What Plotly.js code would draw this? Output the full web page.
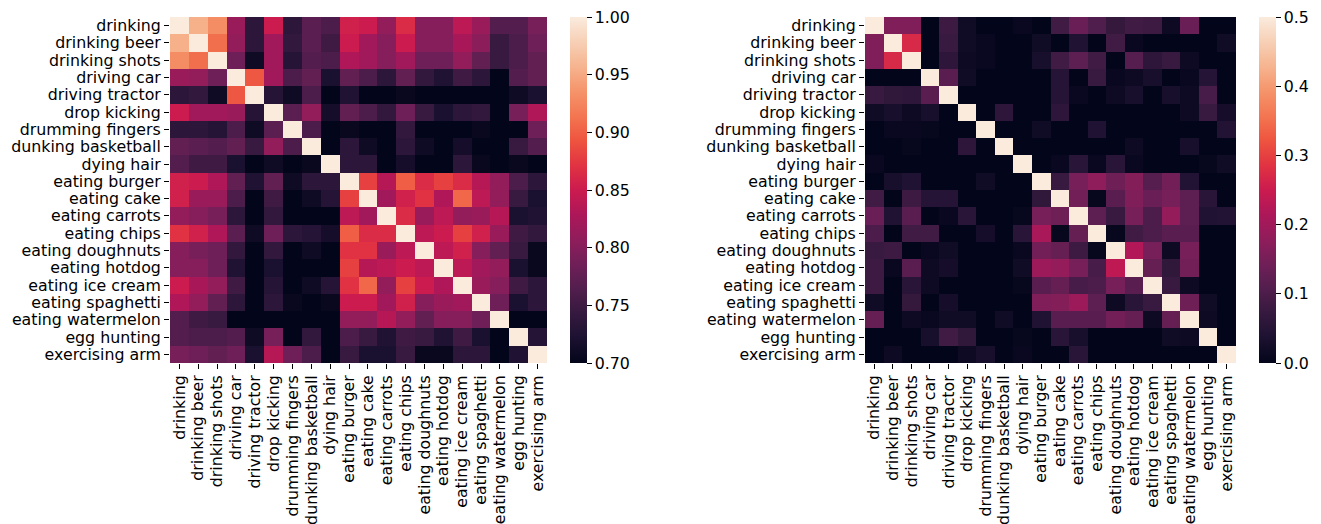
<!DOCTYPE html>
<html><head><meta charset="utf-8">
<script src="https://cdn.plot.ly/plotly-3.0.1.min.js"></script>
<style>html,body{margin:0;padding:0;background:#fff}</style>
</head><body><div id="chart" style="width:1321px;height:524px"></div>
<script>
const categories = ["drinking","drinking beer","drinking shots","driving car","driving tractor","drop kicking","drumming fingers","dunking basketball","dying hair","eating burger","eating cake","eating carrots","eating chips","eating doughnuts","eating hotdog","eating ice cream","eating spaghetti","eating watermelon","egg hunting","exercising arm"];

const leftMatrix = [
[1.00,0.955,0.93,0.815,0.735,0.85,0.735,0.77,0.76,0.855,0.85,0.81,0.865,0.80,0.80,0.84,0.815,0.765,0.765,0.79],
[0.955,1.00,0.91,0.81,0.735,0.82,0.74,0.77,0.75,0.85,0.82,0.80,0.85,0.80,0.80,0.825,0.805,0.745,0.76,0.785],
[0.93,0.91,1.00,0.785,0.71,0.82,0.73,0.765,0.76,0.83,0.82,0.80,0.82,0.785,0.785,0.81,0.775,0.745,0.76,0.775],
[0.815,0.81,0.785,1.00,0.895,0.82,0.76,0.775,0.72,0.775,0.76,0.735,0.775,0.74,0.725,0.75,0.735,0.70,0.765,0.775],
[0.735,0.74,0.71,0.895,1.00,0.73,0.71,0.76,0.70,0.725,0.70,0.70,0.705,0.70,0.70,0.70,0.70,0.70,0.71,0.72],
[0.85,0.82,0.82,0.815,0.73,1.00,0.77,0.81,0.715,0.775,0.76,0.74,0.785,0.745,0.72,0.735,0.74,0.70,0.79,0.83],
[0.735,0.735,0.73,0.76,0.71,0.77,1.00,0.76,0.70,0.705,0.70,0.70,0.74,0.70,0.70,0.70,0.705,0.70,0.70,0.785],
[0.775,0.77,0.765,0.775,0.745,0.81,0.76,1.00,0.70,0.735,0.71,0.70,0.735,0.71,0.70,0.715,0.70,0.70,0.745,0.765],
[0.765,0.75,0.75,0.72,0.70,0.71,0.70,0.705,1.00,0.735,0.735,0.70,0.715,0.70,0.70,0.735,0.705,0.70,0.705,0.70],
[0.855,0.85,0.83,0.775,0.725,0.775,0.71,0.735,0.735,1.00,0.88,0.835,0.90,0.865,0.88,0.865,0.835,0.81,0.76,0.735],
[0.855,0.815,0.815,0.76,0.70,0.75,0.70,0.71,0.73,0.88,1.00,0.82,0.855,0.87,0.83,0.905,0.84,0.81,0.745,0.72],
[0.81,0.80,0.79,0.735,0.70,0.74,0.70,0.70,0.70,0.84,0.82,1.00,0.865,0.815,0.84,0.81,0.815,0.835,0.72,0.725],
[0.87,0.855,0.83,0.77,0.71,0.785,0.735,0.73,0.715,0.90,0.865,0.865,1.00,0.84,0.85,0.88,0.855,0.815,0.75,0.74],
[0.80,0.79,0.785,0.74,0.70,0.74,0.70,0.71,0.70,0.87,0.87,0.815,0.84,1.00,0.84,0.855,0.80,0.775,0.745,0.705],
[0.80,0.80,0.785,0.725,0.70,0.72,0.70,0.70,0.70,0.88,0.835,0.84,0.85,0.84,1.00,0.84,0.82,0.81,0.72,0.705],
[0.85,0.825,0.81,0.75,0.70,0.73,0.70,0.71,0.73,0.87,0.905,0.81,0.88,0.85,0.83,1.00,0.815,0.80,0.75,0.735],
[0.83,0.81,0.775,0.735,0.70,0.735,0.705,0.70,0.705,0.85,0.85,0.82,0.855,0.80,0.815,0.82,1.00,0.785,0.72,0.735],
[0.765,0.75,0.745,0.70,0.70,0.70,0.70,0.70,0.70,0.81,0.81,0.835,0.81,0.775,0.80,0.80,0.785,1.00,0.70,0.70],
[0.765,0.76,0.76,0.765,0.71,0.79,0.70,0.74,0.70,0.76,0.745,0.725,0.75,0.745,0.725,0.75,0.72,0.70,1.00,0.73],
[0.79,0.785,0.775,0.785,0.72,0.835,0.785,0.76,0.70,0.745,0.72,0.72,0.745,0.705,0.705,0.735,0.735,0.70,0.725,1.00]
];

const rightMatrix = [
[1,0.16,0.16,0,0.08,0.02,0,0,0.01,0,0.085,0.135,0.105,0.07,0.085,0.08,0.015,0.135,0,0],
[0.16,1,0.27,0,0.075,0.02,0.01,0,0,0.02,0,0.04,0,0.085,0.01,0,0,0,0,0.02],
[0.16,0.27,1,0,0.06,0.015,0.01,0,0,0.03,0.085,0.12,0.085,0,0.11,0.06,0.075,0.015,0,0],
[0,0,0,1,0.115,0.02,0,0,0,0,0.05,0,0.075,0.01,0.015,0.03,0,0.01,0.05,0],
[0.075,0.065,0.06,0.115,1,0,0,0,0,0,0.05,0.01,0,0.015,0.03,0,0.03,0.015,0.095,0],
[0.02,0.03,0.015,0.03,0,1,0,0.06,0,0,0.06,0,0,0,0,0,0,0.015,0.075,0.025],
[0,0.01,0.01,0.005,0,0,1,0,0,0.02,0,0,0.04,0,0,0,0,0,0,0.045],
[0,0,0.005,0,0,0.06,0,1,0,0,0,0,0,0,0.015,0,0,0.03,0,0],
[0.01,0,0,0,0,0,0,0,1,0,0.01,0.055,0.01,0.055,0.01,0,0,0,0.005,0.02],
[0,0.03,0.04,0,0,0,0.02,0,0,1,0.075,0.15,0.18,0.14,0.165,0.11,0.145,0.045,0,0],
[0.085,0,0.08,0.05,0.05,0,0,0,0,0.065,1,0.145,0.005,0.115,0.16,0.135,0.15,0.12,0.055,0],
[0.135,0.04,0.115,0,0.01,0.055,0,0,0.005,0.15,0.14,1,0.12,0.075,0.15,0.10,0.185,0.12,0.04,0.045],
[0.10,0,0.085,0.085,0,0,0.025,0,0.055,0.21,0.005,0.13,1,0.005,0.085,0.10,0.115,0.115,0,0],
[0.075,0.08,0,0.01,0.02,0,0,0,0.01,0.145,0.13,0.08,0.005,1,0.22,0.15,0.015,0.15,0,0],
[0.08,0.01,0.115,0.015,0.025,0,0,0,0.02,0.195,0.185,0.15,0.095,0.235,1,0.13,0.065,0.145,0,0],
[0.08,0,0.055,0.015,0,0,0,0,0.005,0.115,0.13,0.095,0.10,0.15,0.115,1,0.075,0.015,0,0],
[0.02,0,0.07,0,0.025,0,0,0,0,0.16,0.165,0.195,0.12,0.015,0.055,0.075,1,0.14,0.02,0],
[0.13,0,0.015,0.01,0.02,0.02,0,0.02,0,0.04,0.115,0.115,0.115,0.145,0.13,0.015,0.13,1,0.015,0],
[0,0,0,0.03,0.085,0.065,0,0,0.005,0,0.055,0.03,0,0,0,0,0.02,0.015,1,0],
[0,0.015,0,0,0,0.015,0.03,0,0.01,0,0,0.055,0,0,0,0,0,0,0,1]
];

const leftTicks = [0.70,0.75,0.80,0.85,0.90,0.95,1.00];
const rightTicks = [0.0,0.1,0.2,0.3,0.4,0.5];

const rocket = [[0,'#03051a'],[0.0714,'#1c1130'],[0.143,'#35193e'],[0.214,'#521e4d'],[0.286,'#701f57'],[0.357,'#8f1d5b'],[0.429,'#ad1759'],[0.5,'#cb1b4f'],[0.571,'#e13342'],[0.643,'#ee543f'],[0.714,'#f37651'],[0.786,'#f5946b'],[0.857,'#f6b48f'],[0.929,'#f7d0b6'],[1,'#faebdd']];

const W = 1321, H = 524;
const topPx = 17, botPx = 363;
const font = {family: 'DejaVu Sans', size: 15.8, color: '#000'};

function cbar(xpx, ticks, fmt) {
  return {x: xpx / W, xanchor: 'left', y: 1 - topPx / H, yanchor: 'top',
    len: botPx - topPx, lenmode: 'pixels', thickness: 17, thicknessmode: 'pixels',
    outlinewidth: 0, ticks: 'outside', ticklen: 5, tickwidth: 1, tickcolor: '#000',
    tickvals: ticks, tickformat: fmt, tickfont: font, xpad: 0, ypad: 0};
}

const traces = [
  {type: 'heatmap', z: leftMatrix, x: categories, y: categories, xaxis: 'x', yaxis: 'y',
   colorscale: rocket, zmin: 0.7, zmax: 1.0, colorbar: cbar(570, leftTicks, '.2f'), hoverinfo: 'skip'},
  {type: 'heatmap', z: rightMatrix, x: categories, y: categories, xaxis: 'x2', yaxis: 'y2',
   colorscale: rocket, zmin: 0, zmax: 0.5, colorbar: cbar(1259, rightTicks, '.1f'), hoverinfo: 'skip'}
];

const common = {tickmode: 'array', tickvals: categories, ticktext: categories,
  ticks: 'outside', ticklen: 5, tickwidth: 1, tickcolor: '#000', tickfont: font,
  showgrid: false, zeroline: false, showline: false, fixedrange: true, automargin: false};

function xax(l, r, anchor) {
  return Object.assign({}, common, {domain: [l / W, r / W], anchor: anchor, tickangle: -90});
}
function yax(anchor) {
  return Object.assign({}, common, {domain: [1 - botPx / H, 1 - topPx / H], anchor: anchor, autorange: 'reversed'});
}

const layout = {
  width: W, height: H, margin: {l: 0, r: 0, t: 0, b: 0},
  paper_bgcolor: '#fff', plot_bgcolor: '#fff', font: font, showlegend: false,
  xaxis: xax(170, 547, 'y'), yaxis: yax('x'),
  xaxis2: xax(865, 1236, 'y2'), yaxis2: yax('x2')
};

Plotly.newPlot('chart', traces, layout, {displayModeBar: false, staticPlot: true});
</script></body></html>
